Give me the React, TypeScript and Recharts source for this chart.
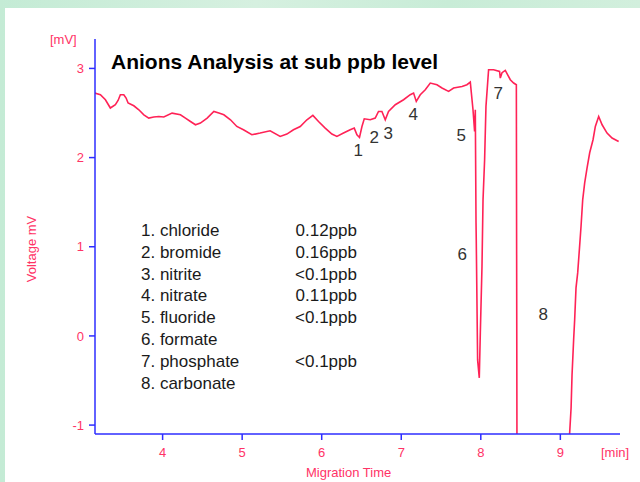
import { LineChart, Line, XAxis, YAxis, ReferenceDot } from 'recharts';

// migration time [min] and detector voltage [mV]
const migrationTime = [
  3.147, 3.218, 3.281, 3.343, 3.406, 3.44, 3.469, 3.512, 3.541, 3.566, 3.638, 3.701,
  3.764, 3.826, 3.889, 3.952, 4.015, 4.119, 4.224, 4.287, 4.35, 4.413, 4.475, 4.56,
  4.644, 4.707, 4.77, 4.853, 4.933, 5.016, 5.122, 5.226, 5.352, 5.478, 5.562, 5.645,
  5.73, 5.814, 5.889, 5.96, 6.044, 6.128, 6.191, 6.274, 6.358, 6.409, 6.443, 6.475,
  6.506, 6.535, 6.61, 6.673, 6.714, 6.757, 6.799, 6.84, 6.925, 7.029, 7.113, 7.155,
  7.189, 7.239, 7.302, 7.365, 7.449, 7.512, 7.595, 7.658, 7.764, 7.826, 7.868,
  7.902, 7.922, 7.931, 7.94, 7.943, 7.96, 7.981, 7.994, 8.015, 8.028, 8.048, 8.065,
  8.098, 8.161, 8.236, 8.245, 8.267, 8.308, 8.371, 8.413, 8.447, 8.455,
  9.11, 9.117, 9.135, 9.147, 9.167, 9.18, 9.197, 9.218, 9.239, 9.26, 9.281, 9.306,
  9.336, 9.369, 9.411, 9.44, 9.482, 9.525, 9.587, 9.65, 9.733,
];
const voltage = [
  2.724, 2.705, 2.649, 2.556, 2.593, 2.641, 2.705, 2.705, 2.668, 2.612, 2.581, 2.536,
  2.48, 2.443, 2.455, 2.461, 2.455, 2.499, 2.48, 2.443, 2.405, 2.368, 2.387, 2.443,
  2.517, 2.499, 2.48, 2.424, 2.349, 2.312, 2.256, 2.275, 2.301, 2.237, 2.264, 2.312,
  2.349, 2.424, 2.473, 2.405, 2.331, 2.264, 2.237, 2.275, 2.312, 2.331, 2.256, 2.226,
  2.349, 2.435, 2.424, 2.443, 2.517, 2.517, 2.424, 2.517, 2.593, 2.649, 2.705, 2.724,
  2.63, 2.705, 2.761, 2.836, 2.817, 2.78, 2.742, 2.78, 2.798, 2.817, 2.847,
  2.536, 2.293, 2.536, 1.268, 1.077, -0.269, -0.471, 0.034, 0.778, 1.526, 1.975, 2.574,
  2.985, 2.985, 2.966, 2.892, 2.952, 2.978, 2.873, 2.836, 2.817, -1.4,
  -1.4, -1.09, -0.808, -0.438, -0.045, 0.18, 0.539, 0.707, 0.965, 1.227, 1.526, 1.717,
  1.886, 2.054, 2.2, 2.349, 2.461, 2.368, 2.275, 2.219, 2.181,
];

const xTicks = [4, 5, 6, 7, 8, 9];
const yTicks = [-1, 0, 1, 2, 3];

// peak numbers and where they sit on the plot
const peakIds = ['1', '2', '3', '4', '5', '6', '7', '8'];
const peakTime = [6.459, 6.66, 6.836, 7.151, 7.755, 7.767, 8.22, 8.786];
const peakVolt = [2.088, 2.233, 2.278, 2.492, 2.256, 0.92, 2.727, 0.247];

const anions = ['chloride', 'bromide', 'nitrite', 'nitrate', 'fluoride', 'formate', 'phosphate', 'carbonate'];
const levels = ['0.12ppb', '0.16ppb', '<0.1ppb', '0.11ppb', '<0.1ppb', '', '<0.1ppb', ''];

const data = migrationTime.map((t, i) => ({ t, v: voltage[i] }));

const blue = '#2e2eff';
const pink = '#ff3366';
const font = '"Liberation Sans", Arial, sans-serif';

export default function App() {
  return (
    <div
      style={{
        position: 'fixed', left: 0, top: 0, width: 640, height: 482, overflow: 'hidden',
        background: 'linear-gradient(90deg, #c4ebd5 0%, #d6f0e0 40%, #c8ecd7 70%, #d2efdd 100%)',
        fontFamily: font,
      }}
    >
      <div style={{ position: 'absolute', left: 5, top: 8, width: 635, height: 474, background: '#fff' }} />
      <div style={{ position: 'absolute', left: 0, top: 0 }}>
        <LineChart width={640} height={482} data={data} margin={{ top: 39, right: 20, bottom: 18, left: 45 }}>
          <XAxis
            dataKey="t" type="number" domain={[3.15, 9.75]} ticks={xTicks} allowDataOverflow
            height={30} stroke={blue} strokeWidth={1.5} tickSize={6} tickMargin={8}
            tick={{ fill: pink, fontSize: 13, fontFamily: font }}
          />
          <XAxis xAxisId="top" orientation="top" type="number" domain={[3.15, 9.75]} height={0} tick={false} tickLine={false} stroke={blue} strokeWidth={1.5} />
          <YAxis
            type="number" domain={[-1.1, 3.33]} ticks={yTicks} allowDataOverflow
            width={50} stroke={blue} strokeWidth={1.5} tickSize={6} tickMargin={5}
            tick={{ fill: pink, fontSize: 13, fontFamily: font }}
          />
          <YAxis yAxisId="right" orientation="right" type="number" domain={[-1.1, 3.33]} width={0} tick={false} tickLine={false} stroke={blue} strokeWidth={1.5} />
          <Line dataKey="v" type="linear" stroke="#ff2256" strokeWidth={1.6} dot={false} isAnimationActive={false} />
          {peakIds.map((id, i) => (
            <ReferenceDot
              key={id} x={peakTime[i]} y={peakVolt[i]} r={0} stroke="none" fill="none"
              label={{ value: id, position: 'center', fill: '#333', fontSize: 17, fontFamily: font }}
            />
          ))}
        </LineChart>
      </div>
      <div style={{ position: 'absolute', left: 111, top: 49, fontSize: 21, fontWeight: 'bold', lineHeight: '26px', color: '#000', whiteSpace: 'nowrap' }}>
        Anions Analysis at sub ppb level
      </div>
      <div style={{ position: 'absolute', left: 141, top: 220, fontSize: 17, lineHeight: '21.8px', color: '#1a1a1a', whiteSpace: 'nowrap' }}>
        {anions.map((a, i) => (
          <div key={a}>{`${i + 1}. ${a}`}</div>
        ))}
      </div>
      <div style={{ position: 'absolute', right: 640 - 357, top: 220, fontSize: 17, lineHeight: '21.8px', color: '#1a1a1a', textAlign: 'right', whiteSpace: 'nowrap', fontKerning: 'none' }}>
        {levels.map((l, i) => (
          <div key={i} style={{ height: 21.8 }}>{l}</div>
        ))}
      </div>
      <div style={{ position: 'absolute', left: 50, top: 32, fontSize: 13, lineHeight: '16px', color: pink }}>[mV]</div>
      <div style={{ position: 'absolute', left: 601, top: 445, fontSize: 13, lineHeight: '16px', color: pink }}>[min]</div>
      <div style={{ position: 'absolute', left: 306, top: 465, fontSize: 13, lineHeight: '16px', color: pink }}>Migration Time</div>
      <div
        style={{
          position: 'absolute', left: 32, top: 249, fontSize: 13, lineHeight: '16px', color: pink,
          whiteSpace: 'nowrap', transform: 'translate(-50%, -50%) rotate(-90deg)',
        }}
      >
        Voltage mV
      </div>
    </div>
  );
}
